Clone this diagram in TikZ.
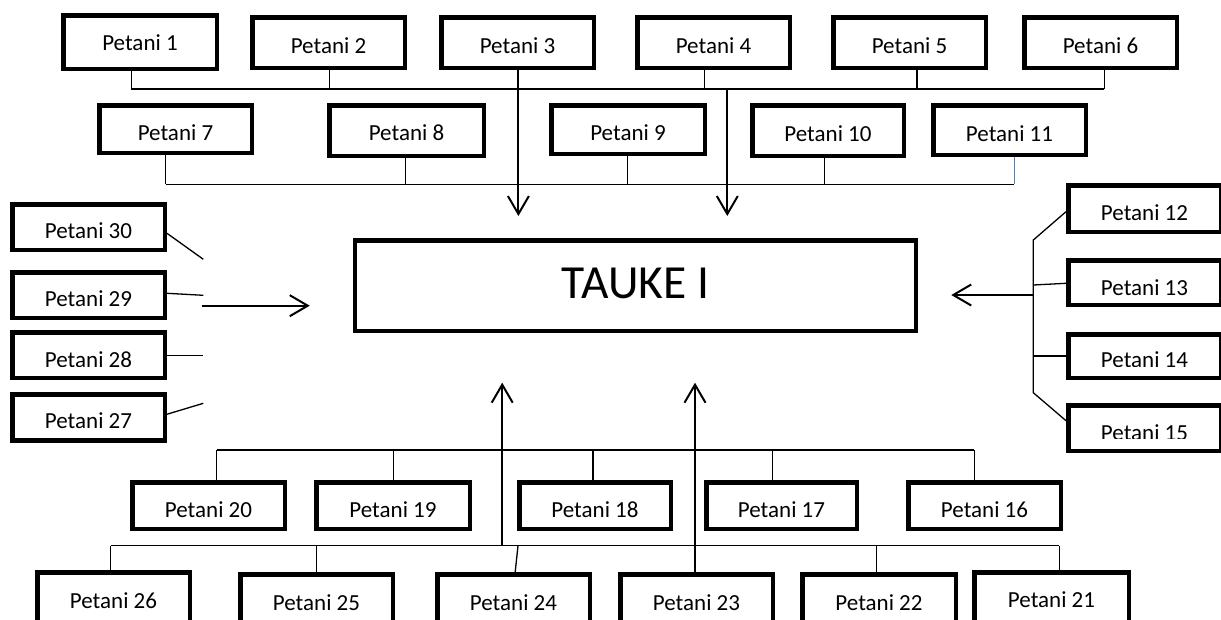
\documentclass[tikz,border=0pt]{standalone}
\usepackage{fontspec}
\setmainfont{Carlito}
\usetikzlibrary{arrows.meta,calc}
\definecolor{linkblue}{RGB}{79,129,189}
\newcommand\farmbox[7]{%
  \node[box, minimum width={#4pt-#2pt-4.5pt}, minimum height={#5pt-#3pt-4.5pt}] (#1) at ({(#2+#4)/2},{(#3+#5)/2}) {};
  \node[lbl] (#1t) at ({(#2+#4)/2},#6) {#7};}
\newcommand\farmboxclip[8]{%
  \node[box, minimum width={#4pt-#2pt-4.5pt}, minimum height={#5pt-#3pt-4.5pt}] (#1) at ({(#2+#4)/2},{(#3+#5)/2}) {};
  \begin{scope}
    \clip (#2,#3) rectangle (#4,#8);
    \node[lbl] (#1t) at ({(#2+#4)/2},#6) {#7};
  \end{scope}}
\begin{document}
\begin{tikzpicture}[x=1pt,y=-1pt,
  box/.style={draw, line width=4.5pt, inner sep=0pt, fill=white},
  lbl/.style={anchor=base, inner sep=0pt, font=\fontsize{23}{27}\selectfont},
  conn/.style={line width=1.3pt},
  arr/.style={line width=2pt, -{Straight Barb[length=18pt,width=21pt]}}]
\useasboundingbox (0,0) rectangle (1221,619);
\clip (0,0) rectangle (1221,619);

% ---------- top rows ----------
\farmbox{p1}{61}{13}{219}{71}{50}{Petani 1}
\farmbox{p2}{250}{15}{407}{70}{53}{Petani 2}
\farmbox{p3}{439}{15}{596}{70}{53}{Petani 3}
\farmbox{p4}{635}{15}{792}{70}{53}{Petani 4}
\farmbox{p5}{831}{15}{988}{70}{53}{Petani 5}
\farmbox{p6}{1022}{15}{1179}{70}{53}{Petani 6}
\farmbox{p7}{97}{103}{254}{155}{140.7}{Petani 7}
\farmbox{p8}{327}{103}{486}{158}{140.7}{Petani 8}
\farmbox{p9}{549}{103}{707}{156}{140.7}{Petani 9}
\farmbox{p10}{750}{103}{906}{158}{141.7}{Petani 10}
\farmbox{p11}{931}{103}{1088}{157}{141.7}{Petani 11}

% ---------- right column ----------
\farmbox{p12}{1066}{183}{1223}{234}{220}{Petani 12}
\farmbox{p13}{1066}{258}{1223}{307}{295}{Petani 13}
\farmboxclip{p14}{1066}{332}{1223}{380}{367.3}{Petani 14}{366}
\farmboxclip{p15}{1066}{403}{1223}{453}{440.5}{Petani 15}{438.7}

% ---------- bottom rows ----------
\farmbox{p16}{906}{480}{1063}{531}{517}{Petani 16}
\farmbox{p17}{704}{480}{859}{531}{517}{Petani 17}
\farmbox{p18}{517}{480}{673}{531}{517}{Petani 18}
\farmbox{p19}{314}{480}{472}{531}{517}{Petani 19}
\farmbox{p20}{130}{480}{287}{531}{517}{Petani 20}
\farmbox{p21}{972}{570}{1131}{624}{607}{Petani 21}
\farmbox{p22}{800}{572}{958}{624}{610}{Petani 22}
\farmbox{p23}{618}{572}{775}{624}{610}{Petani 23}
\farmbox{p24}{435}{572}{592}{624}{610}{Petani 24}
\farmbox{p25}{238}{572}{395}{624}{610}{Petani 25}
\farmbox{p26}{35}{570}{192}{624}{608}{Petani 26}

% ---------- left column ----------
\farmbox{p27}{10}{392}{167}{442.5}{428.3}{Petani 27}
\farmboxclip{p28}{10}{330}{167}{380}{367.3}{Petani 28}{366}
\farmbox{p29}{10}{270}{167}{320}{306.7}{Petani 29}
\farmbox{p30}{10}{202}{167}{252}{238.3}{Petani 30}

% ---------- centre ----------
\node[box, minimum width=561pt, minimum height=90.5pt] (tauke) at (635.5,285.8) {};
\node[anchor=base, inner sep=0pt, font=\fontsize{47.5}{55}\selectfont] (tauket) at (635.5,298.3) {TAUKE I};

% ---------- top connectors ----------
\coordinate (tbA) at (131.3,89);
\coordinate (tbB) at (1104.2,89);
\draw[conn] (tbA) -- (tbB);
\foreach \n/\x in {p1/131.3,p2/329.8,p4/704.4,p5/917.1,p6/1104.2}{
  \coordinate (d) at (\x,89);
  \draw[conn] (\n.south -| d) -- (d);}
\coordinate (rA) at (165.7,184.3);
\coordinate (rB) at (1014.4,184.3);
\draw[conn] (rA) -- (rB);
\foreach \n/\x in {p7/165.7,p8/405.3,p9/627.7,p10/824.6}{
  \coordinate (d) at (\x,184.3);
  \draw[conn] (\n.south -| d) -- (d);}
\draw[conn, linkblue] (p11.south -| rB) -- (rB);
\coordinate (a1) at (518.4,216);
\draw[arr] (p3.south -| a1) -- (a1);
\coordinate (a2s) at (727.3,89);
\coordinate (a2) at (727.3,216);
\draw[arr] (a2s) -- (a2);

% ---------- left connectors ----------
\coordinate (l30) at (203.3,259.3);
\coordinate (l29) at (203.3,295.3);
\coordinate (l28) at (203.3,355.7);
\coordinate (l27) at (203.3,403.3);
\draw[conn] ([yshift=-6.3pt]p30.east) -- (l30);
\draw[conn] ([yshift=1.7pt]p29.east) -- (l29);
\draw[conn] ([yshift=-0.7pt]p28.east) -- (l28);
\draw[conn] ([yshift=3pt]p27.east) -- (l27);
\coordinate (la) at (201.7,305.7);
\draw[arr] (la) -- ([xshift=-43pt]la -| tauke.west);

% ---------- right connectors ----------
\coordinate (rb1) at (1033.3,240);
\coordinate (rb2) at (1033.3,392.7);
\draw[conn] ([yshift=-3.2pt]p12.west) -- (rb1) -- (rb2) -- ([yshift=7.3pt]p15.west);
\coordinate (rb13) at (1033.3,285);
\coordinate (rb14) at (1033.3,356);
\draw[conn] (rb13) -- ([yshift=-0.8pt]p13.west);
\draw[conn] (rb14) -- (p14.west);
\coordinate (ra) at (1033.3,295);
\draw[arr] (ra) -- ([xshift=33pt]ra -| tauke.east);

% ---------- bottom connectors ----------
\coordinate (uA) at (216.7,450);
\coordinate (uB) at (974.3,450);
\draw[conn] (uA) -- (uB);
\foreach \n/\x in {p20/216.7,p19/393.4,p18/593.1,p17/772.3,p16/974.3}{
  \coordinate (d) at (\x,450);
  \draw[conn] (d) -- (\n.north -| d);}
\coordinate (wA) at (110.7,545.7);
\coordinate (wB) at (1059.4,545.7);
\draw[conn] (wA) -- (wB);
\foreach \n/\x in {p26/110.7,p25/316.3,p22/876.4,p21/1059.4}{
  \coordinate (d) at (\x,545.7);
  \draw[conn] (d) -- (\n.north -| d);}
\coordinate (w24) at (518,545.7);
\coordinate (w24b) at (515.2,0);
\draw[conn] (w24) -- (p24.north -| w24b);
\coordinate (b1s) at (502.2,545.7);
\coordinate (b1) at (502.2,382.7);
\draw[arr] (b1s) -- (b1);
\coordinate (b2) at (695,382.7);
\draw[arr] (p23.north -| b2) -- (b2);
\end{tikzpicture}
\end{document}
